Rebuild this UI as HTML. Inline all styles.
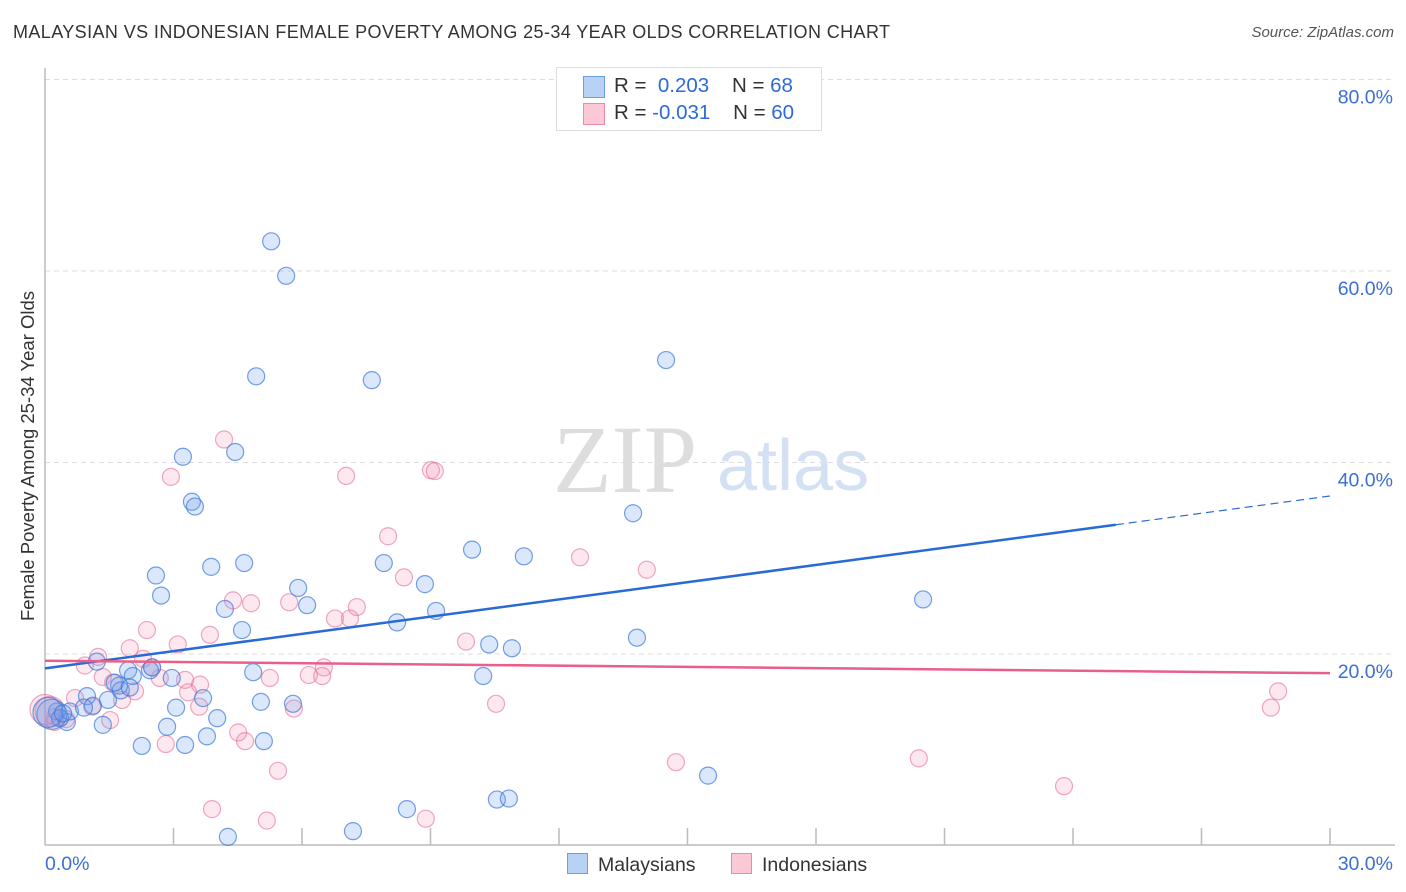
<!DOCTYPE html>
<html><head><meta charset="utf-8"><style>
body{margin:0;background:#fff;font-family:"Liberation Sans",sans-serif;}
#wrap{position:relative;width:1406px;height:892px;overflow:hidden;}
.t{position:absolute;white-space:nowrap;}
</style></head><body>
<div id="wrap">
<div class="t" style="left:13px;top:22px;font-size:18px;color:#333;letter-spacing:0.4px">MALAYSIAN VS INDONESIAN FEMALE POVERTY AMONG 25-34 YEAR OLDS CORRELATION CHART</div>
<div class="t" style="right:12px;top:24px;font-size:15px;color:#555;font-style:italic">Source: ZipAtlas.com</div>
<svg id="svg" width="1406" height="892" style="position:absolute;left:0;top:0"></svg>
</div>
<script>
const yTicks=[20,40,60,80];
const yTickLabels=["20.0%","40.0%","60.0%","80.0%"];
const xTickLabels=["0.0%","30.0%"];
const blueX=[5.28,5.63,4.93,7.63,14.5,3.22,4.44,3.43,3.5,13.73,9.97,11.18,2.59,3.88,4.65,7.91,2.71,5.91,8.87,4.2,6.12,9.13,20.5,8.22,4.6,13.82,10.37,10.9,1.21,2.5,1.94,2.05,4.86,2.96,1.73,1.77,0.98,3.69,3.06,1.12,5.04,5.79,1.47,10.23,4.02,2.85,1.35,3.78,5.11,2.26,3.27,0.28,0.35,0.51,0.16,15.48,8.45,10.55,10.83,7.19,4.27,0.07,0.58,1.63,2.45,0.91,0.42,1.98];
const blueY=[63.1,59.5,49.0,48.6,50.7,40.6,41.1,35.9,35.4,34.7,30.9,30.2,28.2,29.1,29.5,29.5,26.1,26.9,27.3,24.7,25.1,24.5,25.7,23.3,22.5,21.7,21.0,20.6,19.2,18.6,18.3,17.7,18.1,17.5,16.7,16.2,15.6,15.4,14.4,14.6,15.0,14.8,15.2,17.7,13.3,12.4,12.6,11.4,10.9,10.4,10.5,14.0,13.3,12.9,13.7,7.3,3.8,4.8,4.9,1.5,0.9,13.9,14.0,17.0,18.3,14.4,13.8,16.5];
const pinkX=[4.18,2.94,7.03,9.01,9.1,8.01,12.49,14.05,8.38,4.39,4.81,5.7,7.28,7.12,6.77,3.85,2.38,3.1,1.98,9.83,1.24,0.93,2.29,6.51,6.16,5.25,3.27,2.68,6.47,1.35,1.59,3.62,3.34,2.1,0.7,1.8,5.81,3.6,10.53,1.52,0.49,0.23,4.51,4.67,2.82,5.44,14.73,20.4,28.79,28.62,23.79,3.9,5.18,8.89,1.1,0.12,0.23,0.0,2.5,0.35];
const pinkY=[42.4,38.5,38.6,39.2,39.1,32.3,30.1,28.8,28.0,25.6,25.3,25.4,24.9,23.7,23.7,22.0,22.5,21.0,20.6,21.3,19.7,18.8,19.5,18.6,17.8,17.5,17.3,17.5,17.7,17.6,17.0,16.8,16.0,16.1,15.4,15.2,14.3,14.5,14.8,13.1,13.2,13.4,11.8,10.9,10.6,7.8,8.7,9.1,16.1,14.4,6.2,3.8,2.6,2.8,14.5,14.0,12.9,14.2,18.6,13.3];
const blueTrend=[18.5,36.5];
const pinkTrend=[19.3,18.0];
const NS="http://www.w3.org/2000/svg";
const svg=document.getElementById('svg');
const X0=45,X1=1330,Y0=845.5,PY=191.5/20;
const sx=v=>X0+(v/30)*(X1-X0);
const sy=v=>Y0-v*PY;
function mk(tag,attrs,parent){const e=document.createElementNS(NS,tag);for(const k in attrs)e.setAttribute(k,attrs[k]);(parent||svg).appendChild(e);return e;}
yTicks.forEach((t,i)=>{
 const g=mk('line',{x1:X0,x2:1395,y1:sy(t),y2:sy(t),stroke:'#ddd','stroke-dasharray':'5,4','stroke-width':1});
 
 
 const tx=mk('text',{x:1393,y:sy(t)+24,'text-anchor':'end','font-size':19.5,fill:'#3a6fd8','font-family':'Liberation Sans'});
 tx.textContent=yTickLabels[i];
 
 
});
const ya=mk('line',{x1:X0,x2:X0,y1:68,y2:845,stroke:'#bbb','stroke-width':1.5});


const xa=mk('line',{x1:X0,x2:1395,y1:845,y2:845,stroke:'#bbb','stroke-width':1.5});


for(let i=1;i<=10;i++){
 const tk=mk('line',{x1:sx(i*3),x2:sx(i*3),y1:828,y2:845,stroke:'#bbb','stroke-width':1.5});
 
 
}
const xl0=mk('text',{x:45,y:870,'font-size':19.5,fill:'#3a6fd8','font-family':'Liberation Sans'});xl0.textContent=xTickLabels[0];


const xl1=mk('text',{x:1393,y:870,'text-anchor':'end','font-size':19.5,fill:'#3a6fd8','font-family':'Liberation Sans'});xl1.textContent=xTickLabels[1];


const yt=mk('text',{x:0,y:0,transform:'translate(34,456) rotate(-90)','text-anchor':'middle','font-size':18.5,fill:'#333','font-family':'Liberation Sans'});yt.textContent='Female Poverty Among 25-34 Year Olds';


const w1=mk('text',{x:553,y:492,'font-size':96,fill:'#ddd','font-family':'Liberation Serif'});w1.textContent='ZIP';


const w2=mk('text',{x:717,y:490,'font-size':72,fill:'#d4e0f4','font-family':'Liberation Sans'});w2.textContent='atlas';


function pts(xs,ys,fill,stroke,name){
 xs.forEach((x,i)=>{
  const big=(x<0.2&&ys[i]>13.5&&ys[i]<14.5);
  const c=mk('circle',{cx:sx(x),cy:sy(ys[i]),r:big?15:8.5,fill:fill,stroke:stroke,'stroke-width':1.2});
  
  
 });
}
pts(pinkX,pinkY,'rgba(240,140,170,0.2)','rgba(230,110,150,0.6)','indonesian-point');
pts(blueX,blueY,'rgba(110,160,235,0.25)','rgba(60,120,220,0.7)','malaysian-point');
const bx=25;
const byAt=x=>blueTrend[0]+(blueTrend[1]-blueTrend[0])*x/30;
const bl=mk('line',{x1:sx(0),y1:sy(byAt(0)),x2:sx(bx),y2:sy(byAt(bx)),stroke:'#2a6ad6','stroke-width':2.5});


const bd=mk('line',{x1:sx(bx),y1:sy(byAt(bx)),x2:sx(30),y2:sy(byAt(30)),stroke:'#2a6ad6','stroke-width':1.2,'stroke-dasharray':'8,5'});


const pl=mk('line',{x1:sx(0),y1:sy(pinkTrend[0]),x2:sx(30),y2:sy(pinkTrend[1]),stroke:'#e8608a','stroke-width':2.5});


</script>
<div class="t" style="left:556px;top:67px;width:264px;height:62px;border:1px solid #ddd;background:#fff;font-size:20.5px;color:#333">
 <div style="position:absolute;left:26px;top:8px;width:20px;height:20px;background:#b8d2f6;border:1px solid #6a9de6"></div>
 <div style="position:absolute;left:57px;top:6px">R = <span style="color:#2e6ad6">&nbsp;0.203</span>&nbsp;&nbsp;&nbsp;&nbsp;N = <span style="color:#2e6ad6">68</span></div>
 <div style="position:absolute;left:26px;top:35px;width:20px;height:20px;background:#fcc8d6;border:1px solid #ee8aa8"></div>
 <div style="position:absolute;left:57px;top:33px">R = <span style="color:#2e6ad6">-0.031</span>&nbsp;&nbsp;&nbsp;&nbsp;N = <span style="color:#2e6ad6">60</span></div>
</div>
<div class="t" style="left:567px;top:853px;font-size:19.5px;color:#333">
 <span style="display:inline-block;width:19px;height:19px;background:#b8d2f6;border:1px solid #6a9de6;vertical-align:-3px;margin-right:10px"></span>Malaysians</div>
<div class="t" style="left:731px;top:853px;font-size:19.5px;color:#333">
 <span style="display:inline-block;width:19px;height:19px;background:#fcc8d6;border:1px solid #ee8aa8;vertical-align:-3px;margin-right:10px"></span>Indonesians</div>
</body></html>
